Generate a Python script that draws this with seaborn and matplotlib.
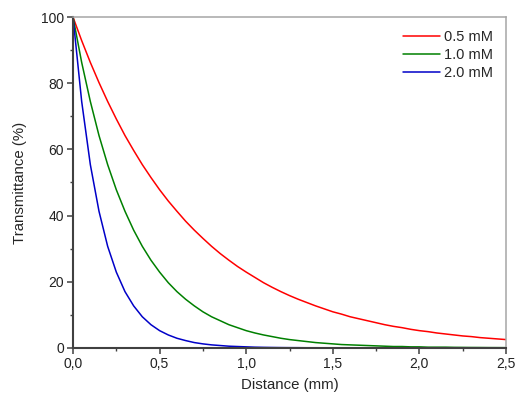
import pandas as pd
import matplotlib
matplotlib.use("Agg")
import matplotlib.pyplot as plt
import seaborn as sns
from matplotlib.ticker import MultipleLocator, FuncFormatter

# distance in mm, every 0.05 mm
distance = [0.00, 0.05, 0.10, 0.15, 0.20, 0.25, 0.30, 0.35, 0.40, 0.45,
            0.50, 0.55, 0.60, 0.65, 0.70, 0.75, 0.80, 0.85, 0.90, 0.95,
            1.00, 1.05, 1.10, 1.15, 1.20, 1.25, 1.30, 1.35, 1.40, 1.45,
            1.50, 1.55, 1.60, 1.65, 1.70, 1.75, 1.80, 1.85, 1.90, 1.95,
            2.00, 2.05, 2.10, 2.15, 2.20, 2.25, 2.30, 2.35, 2.40, 2.45, 2.50]

t_05mM = [100.0, 92.9, 86.3, 80.2, 74.5, 69.2, 64.2, 59.7, 55.4, 51.5,
          47.8, 44.4, 41.3, 38.3, 35.6, 33.1, 30.7, 28.5, 26.5, 24.6,
          22.9, 21.3, 19.7, 18.3, 17.0, 15.8, 14.7, 13.7, 12.7, 11.8,
          10.9, 10.2, 9.4, 8.8, 8.2, 7.6, 7.0, 6.5, 6.1, 5.6,
          5.2, 4.9, 4.5, 4.2, 3.9, 3.6, 3.4, 3.1, 2.9, 2.7, 2.5]

t_10mM = [100.0, 86.3, 74.5, 64.2, 55.4, 47.8, 41.3, 35.6, 30.7, 26.5,
          22.9, 19.7, 17.0, 14.7, 12.7, 10.9, 9.4, 8.2, 7.0, 6.1,
          5.2, 4.5, 3.9, 3.4, 2.9, 2.5, 2.2, 1.9, 1.6, 1.4,
          1.2, 1.0, 0.9, 0.8, 0.7, 0.6, 0.5, 0.4, 0.4, 0.3,
          0.3, 0.2, 0.2, 0.2, 0.15, 0.13, 0.11, 0.10, 0.08, 0.07, 0.06]

t_20mM = [100.0, 74.5, 55.4, 41.3, 30.7, 22.9, 17.0, 12.7, 9.4, 7.0,
          5.2, 3.9, 2.9, 2.2, 1.6, 1.2, 0.9, 0.7, 0.5, 0.4,
          0.3, 0.2, 0.15, 0.11, 0.08, 0.06, 0.05, 0.03, 0.03, 0.02,
          0.01, 0.01, 0.01, 0.0, 0.0, 0.0, 0.0, 0.0, 0.0, 0.0,
          0.0, 0.0, 0.0, 0.0, 0.0, 0.0, 0.0, 0.0, 0.0, 0.0, 0.0]

labels = ["0.5 mM", "1.0 mM", "2.0 mM"]
colors = ["#ff0000", "#008000", "#0000c8"]

df = pd.concat([
    pd.DataFrame({"Distance": distance, "T": vals, "Conc": lab})
    for vals, lab in zip([t_05mM, t_10mM, t_20mM], labels)
])

sns.set_style("ticks")
plt.rcParams["font.family"] = ["Liberation Sans", "DejaVu Sans"]

fig = plt.figure(figsize=(5.31, 3.98), dpi=100)
ax = fig.add_axes([0.1375, 0.126, 0.8155, 0.831])

sns.lineplot(data=df, x="Distance", y="T", hue="Conc", palette=colors,
             linewidth=1.1, ax=ax)

ax.set_xlim(0, 2.5)
ax.set_ylim(0, 100)
ax.xaxis.set_major_locator(MultipleLocator(0.5))
ax.xaxis.set_minor_locator(MultipleLocator(0.25))
ax.yaxis.set_major_locator(MultipleLocator(20))
ax.yaxis.set_minor_locator(MultipleLocator(10))
ax.xaxis.set_major_formatter(FuncFormatter(lambda v, p: f"{v:.1f}".replace(".", ",")))

# origin-style frame: dark left/bottom, light top/right
for side in ["left", "bottom"]:
    ax.spines[side].set_color("#404040")
    ax.spines[side].set_linewidth(1.5)
for side in ["top", "right"]:
    ax.spines[side].set_color("#a6a6a6")
    ax.spines[side].set_linewidth(1.1)
ax.tick_params(which="major", length=4, width=1.1, color="#404040",
               labelsize=10, labelcolor="#222222", pad=2.5)
ax.tick_params(which="minor", length=2.5, width=1.0, color="#404040")

ax.set_xlabel("Distance (mm)", fontsize=10.8, labelpad=5)
ax.set_ylabel("Transmittance (%)", fontsize=10.8, labelpad=10)

ax.legend(frameon=False, fontsize=10.5, loc="upper right",
          handlelength=2.5, handletextpad=0.3, labelspacing=0.28,
          borderaxespad=0.5, bbox_to_anchor=(1.0, 1.0))

fig.savefig("out.png", dpi=100)
